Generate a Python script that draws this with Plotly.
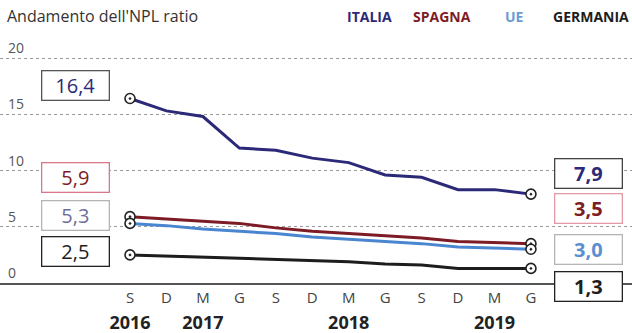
import plotly.graph_objects as go

# ---- data ----
months = ["S", "D", "M", "G", "S", "D", "M", "G", "S", "D", "M", "G"]
year_pos = [0, 2, 6, 10]
year_labels = ["2016", "2017", "2018", "2019"]

italia = [16.4, 15.3, 14.8, 12.0, 11.8, 11.1, 10.7, 9.6, 9.4, 8.3, 8.3, 7.9]
spagna = [5.9, 5.7, 5.5, 5.3, 4.9, 4.6, 4.4, 4.2, 4.0, 3.7, 3.6, 3.5]
ue = [5.3, 5.1, 4.8, 4.6, 4.4, 4.1, 3.9, 3.7, 3.5, 3.2, 3.1, 3.0]
germania = [2.5, 2.4, 2.3, 2.2, 2.1, 2.0, 1.9, 1.7, 1.6, 1.3, 1.3, 1.3]

y_ticks = [0, 5, 10, 15, 20]

series = [
    ("ITALIA", italia, "#2c2a78"),
    ("SPAGNA", spagna, "#7e1c26"),
    ("UE", ue, "#4a86d0"),
    ("GERMANIA", germania, "#1d1d1d"),
]

# label box styles (text colour, border colour, bold) and vertical placement (data units)
left_box = {
    "ITALIA": ("#2c2a78", "#555555", False, 17.6),
    "SPAGNA": ("#7e1c26", "#d9788a", False, 9.42),
    "UE": ("#6d6d9a", "#b5b5b5", False, 5.96),
    "GERMANIA": ("#1d1d1d", "#222222", False, 2.84),
}
right_box = {
    "ITALIA": ("#2c2a78", "#444444", True, 9.69),
    "SPAGNA": ("#7e1c26", "#e59aa8", True, 6.58),
    "UE": ("#5a90d2", "#b5b5b5", True, 3.02),
    "GERMANIA": ("#1d1d1d", "#222222", True, 0.0),
}

x = list(range(len(months)))
fig = go.Figure()

for name, vals, col in series:
    fig.add_trace(go.Scatter(
        x=x, y=vals, mode="lines", line=dict(color=col, width=3),
        showlegend=False, hoverinfo="skip"))
    fig.add_trace(go.Scatter(
        x=[x[0], x[-1]], y=[vals[0], vals[-1]], mode="markers",
        marker=dict(symbol="circle-dot", size=10, color="white",
                    line=dict(color="#222222", width=1.6)),
        showlegend=False, hoverinfo="skip", cliponaxis=False))

# invisible trace for the year axis
fig.add_trace(go.Scatter(x=year_pos, y=[None] * len(year_pos), xaxis="x2",
                         showlegend=False, hoverinfo="skip"))


def fmt(v):
    return f"{v:.1f}".replace(".", ",")


for name, vals, col in series:
    tc, bc, bold, yy = left_box[name]
    txt = fmt(vals[0])
    fig.add_annotation(x=-1.495, y=yy, xref="x", yref="y",
                       text=f"<b>{txt}</b>" if bold else txt, showarrow=False,
                       font=dict(family="Open Sans", size=20, color=tc),
                       bgcolor="white", bordercolor=bc, borderwidth=1.3,
                       borderpad=3, width=60, height=22)
    tc, bc, bold, yy = right_box[name]
    txt = fmt(vals[-1])
    fig.add_annotation(x=12.59, y=yy, xref="x", yref="y", yshift=-3 if yy == 0 else 0,
                       text=f"<b>{txt}</b>" if bold else txt, showarrow=False,
                       font=dict(family="Open Sans", size=20, color=tc),
                       bgcolor="white", bordercolor=bc, borderwidth=1.3,
                       borderpad=3, width=60, height=22)

# title
fig.add_annotation(x=5 / 632, y=1, xref="paper", yref="paper", yshift=14,
                   xanchor="left", yanchor="middle", showarrow=False,
                   text="Andamento dell'NPL ratio",
                   font=dict(family="Open Sans", size=16, color="#333333"))

# legend text
leg_x = {"ITALIA": 345, "SPAGNA": 411, "UE": 503, "GERMANIA": 551}
for name, vals, col in series:
    c = "#6a9bd6" if name == "UE" else col
    fig.add_annotation(x=leg_x[name] / 632, y=1, xref="paper", yref="paper", yshift=14,
                       xanchor="left", yanchor="middle", showarrow=False,
                       text=f"<b>{name}</b>",
                       font=dict(family="Open Sans", size=14, color=c))

x_range = [-130 / 36.45, (632 - 130) / 36.45]

fig.update_layout(
    width=632, height=333,
    margin=dict(l=0, r=0, t=30, b=50),
    paper_bgcolor="white", plot_bgcolor="white",
    xaxis=dict(range=x_range, tickmode="array", tickvals=x, ticktext=months,
               showgrid=False, zeroline=False, showline=True,
               linecolor="#555555", linewidth=1.5, ticks="",
               tickfont=dict(family="Open Sans", size=15, color="#444444")),
    xaxis2=dict(range=x_range, overlaying="x", side="bottom", anchor="y",
                tickmode="array", tickvals=year_pos, ticktext=year_labels,
                showgrid=False, zeroline=False, showline=False, ticks="",
                ticklabelstandoff=27,
                tickfont=dict(family="Open Sans", size=18, color="#222222", weight="bold")),
    yaxis=dict(range=[0, 22.49], tickmode="array", tickvals=y_ticks,
               ticktext=[str(v) for v in y_ticks],
               ticklabelposition="inside top", showgrid=True, ticklabelstandoff=5,
               gridcolor="#9a9a9a", griddash="dot", gridwidth=1,
               zeroline=False, showline=False, ticks="",
               tickfont=dict(family="Open Sans", size=14, color="#555555")),
)

fig.write_html("out.html")
